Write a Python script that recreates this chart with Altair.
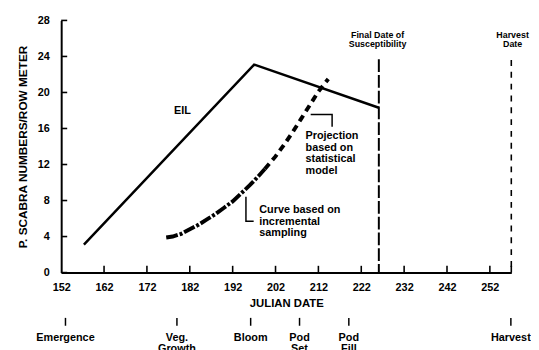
import altair as alt
import pandas as pd

FONT = "Liberation Sans"

# ---- data ----
x_ticks = [152, 162, 172, 182, 192, 202, 212, 222, 232, 242, 252]
x_tick_marks = [162, 172, 182, 192, 202, 212, 222, 232, 242, 252, 257]
y_ticks = [0, 4, 8, 12, 16, 20, 24, 28]

eil_days = [157.3, 197.0, 226.1]
eil_vals = [3.1, 23.1, 18.3]

sample_days = [176.5, 178, 180, 182, 184, 186, 188, 190, 192, 194, 196, 198, 199.5]
sample_vals = [3.9, 4.0, 4.3, 4.8, 5.3, 5.9, 6.5, 7.2, 7.9, 8.8, 9.7, 10.7, 11.5]

proj_days = [199.5, 202, 204, 206, 208, 210, 212, 214.3]
proj_vals = [11.5, 12.9, 14.2, 15.6, 17.1, 18.6, 20.1, 21.5]

final_day = 226.1
final_top = 23.7
harvest_day = 257
harvest_top = 23.6

stage_names = ["Emergence", "Veg.\nGrowth", "Bloom", "Pod\nSet", "Pod\nFill", "Harvest"]
stage_days = [153, 179, 196.2, 207.6, 219.1, 256.9]

top_labels = ["Final Date of\nSusceptibility", "Harvest\nDate"]
top_label_days = [225.8, 257.3]
top_label_vals = [26.86, 26.86]

note_texts = ["EIL", "Projection\nbased on\nstatistical\nmodel", "Curve based on\nincremental\nsampling"]
note_days = [180.3, 209.0, 198.2]
note_vals = [17.9, 15.8, 7.6]

bracket_id = ["proj", "proj", "proj", "samp", "samp", "samp"]
bracket_days = [210.2, 215.2, 215.2, 195.1, 195.1, 196.9]
bracket_vals = [17.56, 17.56, 16.2, 8.42, 5.69, 5.69]
bracket_order = [0, 1, 2, 0, 1, 2]

# ---- tables ----
eil = pd.DataFrame({"day": eil_days, "val": eil_vals})
samp = pd.DataFrame({"day": sample_days, "val": sample_vals})
proj = pd.DataFrame({"day": proj_days, "val": proj_vals})
xt = pd.DataFrame({"day": x_tick_marks})
yt = pd.DataFrame({"val": y_ticks})
stages = pd.DataFrame({"day": stage_days, "name": stage_names})
tops = pd.DataFrame({"day": top_label_days, "val": top_label_vals, "name": top_labels})
notes = pd.DataFrame({"day": note_days, "val": note_vals, "name": note_texts})
brk = pd.DataFrame({"id": bracket_id, "day": bracket_days, "val": bracket_vals, "o": bracket_order})
vlines = pd.DataFrame({"day": [final_day], "val": [final_top]})
hlines = pd.DataFrame({"day": [harvest_day], "val": [harvest_top]})

xs = alt.Scale(domain=[152, 257], nice=False, zero=False)
ys = alt.Scale(domain=[0, 28], nice=False, zero=True)

x_axis = alt.Axis(
    values=x_ticks, ticks=False, grid=False, domainColor="black", domainWidth=2,
    labelFont=FONT, labelFontSize=11, labelFontWeight="bold", labelColor="black",
    labelPadding=9, labelFlush=False, labelOverlap=False,
    title="JULIAN DATE", titleFont=FONT, titleFontSize=11.5, titleFontWeight="bold",
    titleColor="black", titlePadding=5)
y_axis = alt.Axis(
    values=y_ticks, ticks=False, grid=False, domainColor="black", domainWidth=2,
    labelFont=FONT, labelFontSize=11, labelFontWeight="bold", labelColor="black",
    labelPadding=12, labelFlush=False, labelOverlap=False,
    title="P. SCABRA NUMBERS/ROW METER", titleFont=FONT, titleFontSize=12,
    titleFontWeight="bold", titleColor="black", titlePadding=8)


def X():
    return alt.X("day:Q", scale=xs, axis=x_axis)


def Y():
    return alt.Y("val:Q", scale=ys, axis=y_axis)


base = alt.Chart(eil).mark_line(color="black", strokeWidth=2.5).encode(x=X(), y=Y())

samp_line = alt.Chart(samp).mark_line(color="black", strokeWidth=4, strokeDash=[12, 2, 3, 2]).encode(x=X(), y=Y())
proj_line = alt.Chart(proj).mark_line(color="black", strokeWidth=4, strokeDash=[7, 5]).encode(x=X(), y=Y())

final_rule = alt.Chart(vlines).mark_rule(color="black", strokeWidth=2, strokeDash=[13, 3]).encode(
    x=X(), y=Y(), y2=alt.datum(0))
harv_rule = alt.Chart(hlines).mark_rule(color="black", strokeWidth=1.6, strokeDash=[6, 6]).encode(
    x=X(), y=Y(), y2=alt.datum(0))

# inward tick marks (ticks point into the plot)
xtick_marks = alt.Chart(xt).mark_rule(color="black", strokeWidth=1.6).encode(
    x=X(), y=alt.YDatum(0, scale=ys, axis=y_axis), y2=alt.datum(0.75))
ytick_marks = alt.Chart(yt).mark_rule(color="black", strokeWidth=1.6).encode(
    y=Y(), x=alt.XDatum(152, scale=xs, axis=x_axis), x2=alt.datum(153.4))

brackets = alt.Chart(brk).mark_line(color="black", strokeWidth=1.5).encode(
    x=X(), y=Y(), detail="id:N", order="o:Q")

eil_text = alt.Chart(notes.iloc[[0]]).mark_text(
    font=FONT, fontSize=11, fontWeight="bold", color="black", align="center", baseline="middle").encode(
    x=X(), y=Y(), text="name:N")
note_text = alt.Chart(notes.iloc[1:]).mark_text(
    font=FONT, fontSize=11, fontWeight="bold", color="black", align="left", baseline="top",
    lineBreak="\n", lineHeight=11.7).encode(x=X(), y=Y(), text="name:N")

top_text = alt.Chart(tops).mark_text(
    font=FONT, fontSize=9, fontWeight="bold", color="black", align="center", baseline="top",
    lineBreak="\n", lineHeight=10).encode(x=X(), y=Y(), text="name:N")

stage_ticks = alt.Chart(stages).mark_rule(color="black", strokeWidth=1.5).encode(
    x=X(), y=alt.value(302), y2=alt.value(310))
stage_text = alt.Chart(stages).mark_text(
    font=FONT, fontSize=11, fontWeight="bold", color="black", align="center", baseline="top",
    lineBreak="\n", lineHeight=12).encode(x=X(), y=alt.value(316), text="name:N")

chart = alt.layer(
    base, samp_line, proj_line, final_rule, harv_rule, xtick_marks, ytick_marks,
    brackets, eil_text, note_text, top_text, stage_ticks, stage_text
).properties(
    width=457, height=256,
    autosize=alt.AutoSizeParams(type="none"),
    padding={"left": 54, "top": 10, "right": 20, "bottom": 76},
    background="white",
).configure_view(stroke=None)

chart.save("out.html", embed_options={"renderer": "svg", "actions": False})
